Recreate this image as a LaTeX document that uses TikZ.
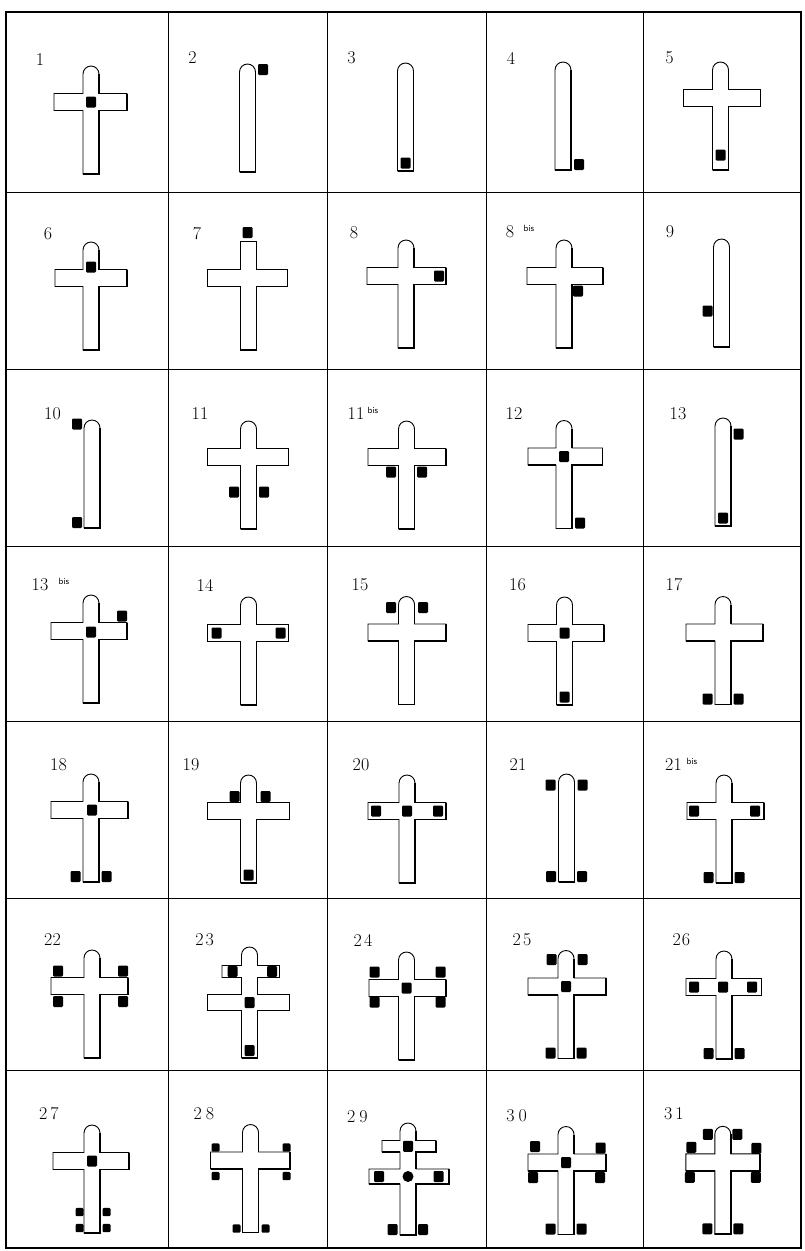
\documentclass[tikz,border=0pt]{standalone}
\tikzset{
  crossline/.style={draw=black, fill=white, line width=0.9pt, line join=miter},
  edgeshadow/.style={draw=black, line width=1.9pt},
  blkfill/.style={fill=black, rounded corners=1.2pt},
  numlab/.style={inner sep=0pt, font=\fontsize{18}{18}\selectfont},
  bislab/.style={inner sep=0pt, font=\fontsize{9}{9}\selectfont\sffamily},
  gridline/.style={line width=0.8pt},
  frameline/.style={line width=2.6pt},
}
\newcommand\cellat[3]{\begin{scope}[shift={(#1,#2)}]#3\end{scope}}
\newcommand\stemonly{%
  \filldraw[crossline] (-8,72) -- (-8,-28) .. controls (-8,-32.4) and (-4.4,-36) .. (0,-36) .. controls (4.4,-36) and (8,-32.4) .. (8,-28) -- (8,72) -- cycle;
  \draw[edgeshadow] (8,-28) -- (8,72) -- (-8,72);}
\newcommand\lcross[2]{%
  \filldraw[crossline] (-8,72) -- (-8,8.5) -- (-#1,8.5) -- (-#1,-8.5) -- (-8,-8.5) -- (-8,-28) .. controls (-8,-32.4) and (-4.4,-36) .. (0,-36) .. controls (4.4,-36) and (8,-32.4) .. (8,-28) -- (8,-8.5) -- (#2,-8.5) -- (#2,8.5) -- (8,8.5) -- (8,72) -- cycle;
  \draw[edgeshadow] (8,-28) -- (8,-8.5);
  \draw[edgeshadow] (#2,-8.5) -- (#2,8.5) -- (8,8.5) -- (8,72) -- (-8,72);
  \draw[edgeshadow] (-#1,8.5) -- (-8,8.5);}
\newcommand\blk[2]{\fill[blkfill] (#1-5,#2-5.5) rectangle (#1+5,#2+5.5);}
\newcommand\sblk[2]{\fill[blkfill] (#1-4,#2-4.2) rectangle (#1+4,#2+4.2);}
\newcommand\botpair{\blk{-15.5}{66.5}\blk{15.5}{66.5}}
\begin{document}
\begin{tikzpicture}[x=1pt,y=-1pt]
\fill[white] (0,0) rectangle (804,1251);
\useasboundingbox (0,0) rectangle (804,1251);
% grid
\foreach \gx in {168,327,486,643} \draw[gridline] (\gx,12) -- (\gx,1248);
\foreach \gy in {192,369,546,721,898,1070} \draw[gridline] (6,\gy) -- (801,\gy);
\draw[frameline] (6,12) rectangle (801,1248);
% row 1
\cellat{91}{102}{\lcross{37}{36}\blk{0}{0}}
\cellat{247.5}{100}{\stemonly\blk{15.5}{-30.5}}
\cellat{405.5}{99}{\stemonly\blk{0}{64}}
\cellat{563}{98}{\stemonly\blk{16}{66.5}}
\cellat{720.5}{98}{\lcross{37}{40}\blk{0}{57}}
% row 2
\cellat{91}{278}{\lcross{36}{36}\blk{0}{-11}}
\cellat{248.5}{278}{%
  \filldraw[crossline] (-8,72) -- (-8,8.5) -- (-41,8.5) -- (-41,-8.5) -- (-8,-8.5) -- (-8,-37) -- (8,-37) -- (8,-8.5) -- (39,-8.5) -- (39,8.5) -- (8,8.5) -- (8,72) -- cycle;
  \draw[edgeshadow] (8,-37) -- (8,-8.5);
  \draw[edgeshadow] (39,-8.5) -- (39,8.5) -- (8,8.5) -- (8,72) -- (-8,72);
  \draw[edgeshadow] (-41,8.5) -- (-8,8.5);
  \blk{-1}{-45.5}}
\cellat{406}{276}{\lcross{39}{40}\blk{33}{0}}
\cellat{564}{276}{\lcross{37}{39}\blk{14}{15}}
\cellat{721.5}{275}{\stemonly\blk{-14}{36}}
% row 3
\cellat{92}{456}{\stemonly\blk{-15}{-32}\blk{-15}{66.5}}
\cellat{248.5}{457}{\lcross{41}{40}\blk{-14.5}{35}\blk{15.5}{35}}
\cellat{406.5}{457}{\lcross{38.5}{39.5}\blk{-15.5}{15}\blk{15.5}{15}}
\cellat{564}{456.5}{\lcross{36}{38.5}\blk{0}{0}\blk{16}{66.5}}
\cellat{723}{454}{\stemonly\blk{15.5}{-20}\blk{0}{64}}
% row 4
\cellat{91}{631}{\lcross{40}{36}\blk{0}{1}\blk{31}{-15}}
\cellat{248.5}{633}{\lcross{41}{40}\blk{-32}{0}\blk{32}{0}}
\cellat{406.5}{632.5}{\lcross{38.5}{39.5}\blk{-15.5}{-25}\blk{16.5}{-25}}
\cellat{564.5}{633}{\lcross{36.5}{39.5}\blk{0}{0}\blk{0}{64}}
\cellat{723}{632.5}{\lcross{37}{40}\botpair}
% row 5
\cellat{91}{810}{\lcross{40}{37}\blk{1}{0}\botpair}
\cellat{248.5}{811}{\lcross{41}{41}\blk{-14}{-14.5}\blk{17}{-14.5}\blk{0}{64}}
\cellat{407}{811}{\lcross{39}{39}\blk{-31}{0}\blk{0}{0}\blk{31}{0}}
\cellat{566.5}{810}{\stemonly\blk{-16}{-25}\blk{16}{-25}\botpair}
\cellat{724}{811}{\lcross{37}{40}\blk{-30}{0}\blk{31}{0}\botpair}
% row 6
\cellat{92}{986}{\lcross{41}{36}\blk{-34}{-15}\blk{31}{-15}\blk{-34}{15.5}\blk{31}{15.5}}
\cellat{249.5}{983}{%
  \filldraw[crossline] (-8,75) -- (-8,27.5) -- (-42,27.5) -- (-42,11.5) -- (-8,11.5) -- (-8,-5.5) -- (-27.5,-5.5) -- (-27.5,-17.5) -- (-8,-17.5) -- (-8,-28) .. controls (-8,-32.4) and (-4.4,-36) .. (0,-36) .. controls (4.4,-36) and (8,-32.4) .. (8,-28) -- (8,-17.5) -- (30,-17.5) -- (30,-5.5) -- (8,-5.5) -- (8,11.5) -- (40,11.5) -- (40,27.5) -- (8,27.5) -- (8,75) -- cycle;
  \draw[edgeshadow] (8,-28) -- (8,-17.5);
  \draw[edgeshadow] (30,-17.5) -- (30,-5.5) -- (8,-5.5) -- (8,11.5);
  \draw[edgeshadow] (40,11.5) -- (40,27.5) -- (8,27.5) -- (8,75) -- (-8,75);
  \draw[edgeshadow] (-27.5,-5.5) -- (-8,-5.5);
  \draw[edgeshadow] (-42,27.5) -- (-8,27.5);
  \blk{-17}{-11.5}\blk{22.5}{-11.5}\blk{0}{19.5}\blk{0}{67.5}}
\cellat{406.5}{988}{\lcross{37.5}{39.5}\blk{-32}{-16}\blk{34}{-16}\blk{-32}{14}\blk{34}{14}\blk{0}{0}}
\cellat{566}{986.5}{\lcross{38}{40}\blk{-14.5}{-27}\blk{16.5}{-27}\blk{0}{0}\botpair}
\cellat{724}{987}{\lcross{38}{37.5}\blk{-30}{0}\blk{-1}{0}\blk{28}{0}\botpair}
% row 7
\cellat{92}{1161}{\lcross{39}{37}\blk{0}{0}\sblk{-12.5}{51}\sblk{14.5}{51}\sblk{-12.5}{67}\sblk{14.5}{67}}
\cellat{250.5}{1160.5}{\lcross{40}{39.5}\sblk{-35}{-13}\sblk{36}{-13}\sblk{-35}{15.5}\sblk{36}{15.5}\sblk{-14}{68}\sblk{15}{68}}
\cellat{408}{1159}{%
  \filldraw[crossline] (-8,76) -- (-8,25) -- (-39,25) -- (-39,10) -- (-8,10) -- (-8,-7) -- (-26,-7) -- (-26,-18.5) -- (-8,-18.5) -- (-8,-28) .. controls (-8,-32.4) and (-4.4,-36) .. (0,-36) .. controls (4.4,-36) and (8,-32.4) .. (8,-28) -- (8,-18.5) -- (28,-18.5) -- (28,-7) -- (8,-7) -- (8,10) -- (41,10) -- (41,25) -- (8,25) -- (8,76) -- cycle;
  \draw[edgeshadow] (8,-28) -- (8,-18.5);
  \draw[edgeshadow] (28,-18.5) -- (28,-7) -- (8,-7) -- (8,10);
  \draw[edgeshadow] (41,10) -- (41,25) -- (8,25) -- (8,76) -- (-8,76);
  \draw[edgeshadow] (-26,-7) -- (-8,-7);
  \draw[edgeshadow] (-39,25) -- (-8,25);
  \blk{0}{-12.75}\blk{-29}{17.5}\fill (0,17.5) circle (5.5);\blk{30.5}{17.5}\blk{-15.5}{70.5}\blk{15}{70.5}}
\cellat{566}{1162.5}{\lcross{38}{40}\blk{-31}{-16}\blk{34.5}{-14.5}\blk{0}{0}\blk{-33}{15}\blk{34}{15}\botpair}
\cellat{722.8}{1162.3}{\lcross{37}{37}\blk{-15}{-28}\blk{14.5}{-28}\blk{-31.5}{-15}\blk{33.5}{-14}\blk{-33}{15}\blk{33}{15}\botpair}
% labels
\node[numlab] (n1) at (40,60) {1};
\node[numlab] (n2) at (192.5,58) {2};
\node[numlab] (n3) at (351.5,58) {3};
\node[numlab] (n4) at (511,58) {4};
\node[numlab] (n5) at (669.5,58) {5};
\node[numlab] (n6) at (48,234) {6};
\node[numlab] (n7) at (197,234) {7};
\node[numlab] (n8) at (354,233) {8};
\node[numlab] (n8b) at (510,232) {8};
\node[bislab] (n8bs) at (529,228) {bis};
\node[numlab] (n9) at (670,232) {9};
\node[numlab] (n10) at (52.5,414) {10};
\node[numlab] (n11) at (200,414) {11};
\node[numlab] (n11b) at (356,414) {11};
\node[bislab] (n11bs) at (373,410) {bis};
\node[numlab] (n12) at (514,414) {12};
\node[numlab] (n13) at (678,414) {13};
\node[numlab] (n13b) at (40,585) {13};
\node[bislab] (n13bs) at (64,581) {bis};
\node[numlab] (n14) at (205,585) {14};
\node[numlab] (n15) at (360,585) {15};
\node[numlab] (n16) at (517.5,585) {16};
\node[numlab] (n17) at (674,585) {17};
\node[numlab] (n18) at (58.5,765) {18};
\node[numlab] (n19) at (191,765) {19};
\node[numlab] (n20) at (361,765) {20};
\node[numlab] (n21) at (518,765) {21};
\node[numlab] (n21b) at (673.5,765) {21};
\node[bislab] (n21bs) at (692,761) {bis};
\node[numlab] (n22) at (52.5,940) {22};
\node[numlab] (n23) at (204.7,940) {2\kern2pt3};
\node[numlab] (n24) at (363,940) {2\kern2pt4};
\node[numlab] (n25) at (522,940) {2\kern2pt5};
\node[numlab] (n26) at (681.5,940) {2\kern1pt6};
\node[numlab] (n27) at (49,1114) {2\kern3pt7};
\node[numlab] (n28) at (204,1114) {2\kern4pt8};
\node[numlab] (n29) at (357.5,1117) {2\kern4pt9};
\node[numlab] (n30) at (516.7,1116) {3\kern4pt0};
\node[numlab] (n31) at (674,1114) {3\kern3pt1};
\end{tikzpicture}
\end{document}
